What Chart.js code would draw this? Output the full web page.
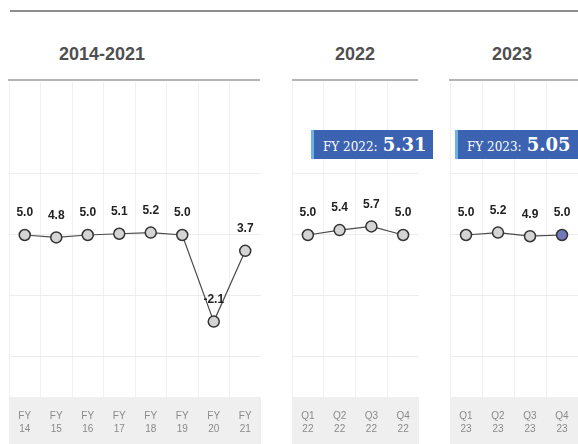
<!DOCTYPE html>
<html>
<head>
<meta charset="utf-8">
<script src="https://cdn.jsdelivr.net/npm/chart.js@4"></script>
<style>
  html, body { margin: 0; padding: 0; background: #fff; }
  body { width: 578px; height: 444px; position: relative; overflow: hidden; font-family: "Liberation Sans", Arial, sans-serif; }
  .topline { position: absolute; left: 10px; top: 10px; width: 568px; height: 2px; background: #8e8e8e; }
  .ptitle { position: absolute; top: 44px; font-weight: bold; font-size: 18px; color: #4f4f4f; text-align: center; }
  .uline { position: absolute; top: 79px; height: 2px; background: #b4b4b4; }
  .panel { position: absolute; top: 82px; height: 362px; }
  .box { position: absolute; top: 130px; height: 29px; background: #3c63b2; border-left: 3px solid #6cb2e4; box-sizing: border-box;
         color: #fff; font-family: "DejaVu Serif", "Liberation Serif", serif; white-space: nowrap; line-height: 29px; padding-left: 9px; }
  .box .lab { font-size: 12px; }
  .box .val { font-size: 18px; font-weight: bold; }
</style>
</head>
<body>
<div class="topline"></div>

<div class="ptitle" style="left:52px;width:100px;">2014-2021</div>
<div class="ptitle" style="left:305px;width:100px;">2022</div>
<div class="ptitle" style="left:462px;width:100px;">2023</div>

<div class="uline" style="left:8px;width:252px;"></div>
<div class="uline" style="left:292px;width:126px;"></div>
<div class="uline" style="left:449px;width:129px;"></div>

<div class="panel" style="left:9px;width:252px;"><canvas id="c1"></canvas></div>
<div class="panel" style="left:292px;width:127px;"><canvas id="c2"></canvas></div>
<div class="panel" style="left:450px;width:128px;"><canvas id="c3"></canvas></div>

<div class="box" id="b2" style="left:311px;width:122px;"></div>
<div class="box" id="b3" style="left:455px;width:130px;"></div>

<script>
// ---- data ----
const labels2014 = [['FY','14'],['FY','15'],['FY','16'],['FY','17'],['FY','18'],['FY','19'],['FY','20'],['FY','21']];
const values2014 = [5.0, 4.8, 5.0, 5.1, 5.2, 5.0, -2.1, 3.7];
const labels2022 = [['Q1','22'],['Q2','22'],['Q3','22'],['Q4','22']];
const values2022 = [5.0, 5.4, 5.7, 5.0];
const labels2023 = [['Q1','23'],['Q2','23'],['Q3','23'],['Q4','23']];
const values2023 = [5.0, 5.2, 4.9, 5.0];
const yTicks = [-5, 0, 5, 10];
const fyLabel2022 = 'FY 2022:';
const fyValue2022 = 5.31;
const fyLabel2023 = 'FY 2023:';
const fyValue2023 = 5.05;

document.getElementById('b2').innerHTML = '<span class="lab">' + fyLabel2022 + '</span> <span class="val">' + fyValue2022.toFixed(2) + '</span>';
document.getElementById('b3').innerHTML = '<span class="lab">' + fyLabel2023 + '</span> <span class="val">' + fyValue2023.toFixed(2) + '</span>';

const bandPlugin = {
  id: 'band',
  beforeDraw(chart) {
    const { ctx, chartArea } = chart;
    ctx.save();
    ctx.fillStyle = '#efefef';
    ctx.fillRect(chartArea.left, chartArea.bottom, chartArea.right - chartArea.left, chart.height - chartArea.bottom);
    ctx.restore();
  }
};

const valueLabels = {
  id: 'valueLabels',
  afterDatasetsDraw(chart) {
    const { ctx } = chart;
    ctx.save();
    ctx.font = 'bold 12px "Liberation Sans", Arial, sans-serif';
    ctx.fillStyle = '#222';
    ctx.textAlign = 'center';
    ctx.textBaseline = 'middle';
    chart.data.datasets.forEach((ds, i) => {
      chart.getDatasetMeta(i).data.forEach((pt, j) => {
        ctx.fillText(ds.data[j].toFixed(1), pt.x, pt.y - 22);
      });
    });
    ctx.restore();
  }
};

function makeChart(id, labels, values, lastColor) {
  const fills = values.map((v, i) => (lastColor && i === values.length - 1) ? lastColor : '#d4d4d4');
  return new Chart(document.getElementById(id), {
    type: 'line',
    data: {
      labels: labels,
      datasets: [{
        data: values,
        borderColor: '#4a4a4a',
        borderWidth: 1.2,
        pointRadius: 5.5,
        pointHoverRadius: 5.5,
        pointBackgroundColor: fills,
        pointBorderColor: '#333',
        pointBorderWidth: 1.5,
        tension: 0,
        clip: false
      }]
    },
    options: {
      responsive: false,
      animation: false,
      maintainAspectRatio: false,
      layout: { padding: 0, autoPadding: false },
      plugins: { legend: { display: false }, tooltip: { enabled: false } },
      scales: {
        x: {
          offset: true,
          grid: { offset: true, color: '#f0f0f0', lineWidth: 1, drawTicks: false },
          border: { display: false },
          ticks: {
            color: '#8a8a8a',
            font: { size: 10, family: '"Liberation Sans", Arial, sans-serif', lineHeight: 1.3 },
            padding: 13,
            maxRotation: 0,
            autoSkip: false
          },
          afterFit(s) { s.height = 47; s.paddingLeft = 0; s.paddingRight = 0; }
        },
        y: {
          min: -8.28,
          max: 17.54,
          afterBuildTicks(s) { s.ticks = yTicks.map(v => ({ value: v })); },
          ticks: { display: false },
          grid: { color: '#ececec', lineWidth: 1, drawTicks: false },
          border: { display: false },
          afterFit(s) { s.width = 0; s.paddingTop = 0; s.paddingBottom = 0; }
        }
      }
    },
    plugins: [bandPlugin, valueLabels]
  });
}

function sizeCanvas(id, w, h) {
  const c = document.getElementById(id);
  c.width = w; c.height = h;
  c.style.width = w + 'px'; c.style.height = h + 'px';
}
sizeCanvas('c1', 252, 362);
sizeCanvas('c2', 127, 362);
sizeCanvas('c3', 128, 362);

makeChart('c1', labels2014, values2014, null);
makeChart('c2', labels2022, values2022, null);
makeChart('c3', labels2023, values2023, '#7378b8');
</script>
</body>
</html>
